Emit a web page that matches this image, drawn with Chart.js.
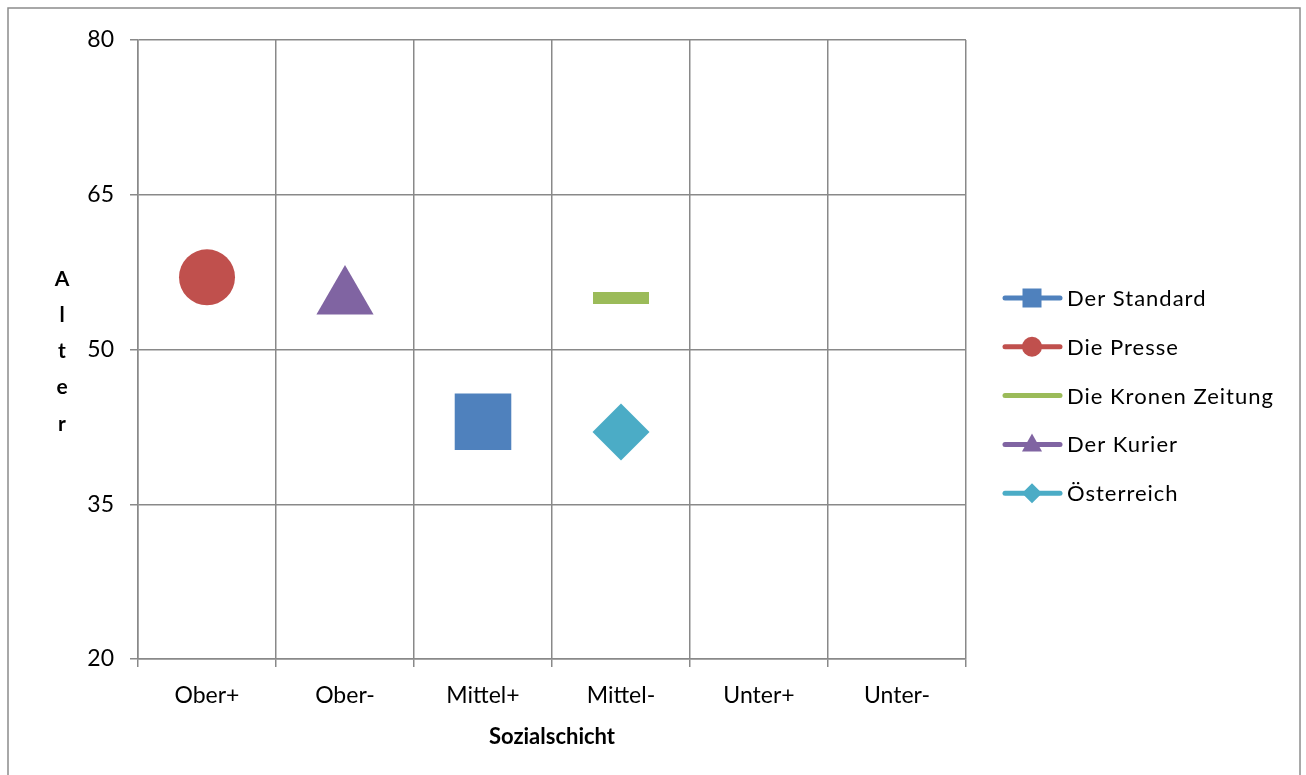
<!DOCTYPE html>
<html>
  <head>
    <meta charset="utf-8">
    <title>Alter nach Sozialschicht</title>
    <script src="https://cdn.jsdelivr.net/npm/chart.js"></script>
    <style>
      html, body {
        margin: 0;
        padding: 0;
        background: #ffffff;
      }
      canvas {
        display: block;
      }
    </style>
  </head>
  <body>
    <canvas id="age-chart" width="1306" height="775"></canvas>

    <script>
      // Data
      const categories = ['Ober+', 'Ober-', 'Mittel+', 'Mittel-', 'Unter+', 'Unter-']
      const seriesNames = ['Der Standard', 'Die Presse', 'Die Kronen Zeitung', 'Der Kurier', 'Österreich']
      const seriesClass = ['Mittel+', 'Ober+', 'Mittel-', 'Ober-', 'Mittel-']
      const seriesAge = [43, 57, 55, 55, 42]
      const yTicks = [20, 35, 50, 65, 80]

      const seriesColors = ['#4f81bd', '#c0504d', '#9bbb59', '#8064a2', '#4bacc6']
      const seriesShapes = ['rect', 'circle', 'line', 'triangle', 'rectRot']
      const seriesRadius = [40, 28, 28, 33, 28.5]

      const gridColor = '#898989'
      const fontFamily = 'Lato, "Open Sans", sans-serif'

      const datasets = seriesNames.map((name, i) => ({
        label: name,
        data: [{ x: seriesClass[i], y: seriesAge[i] }],
        showLine: false,
        pointStyle: seriesShapes[i],
        pointRadius: seriesRadius[i],
        pointHoverRadius: seriesRadius[i],
        backgroundColor: seriesColors[i],
        borderColor: seriesColors[i],
        pointBorderWidth: seriesShapes[i] === 'line' ? 12 : 0,
        pointBorderColor: seriesColors[i]
      }))

      // outer frame + vertical stacked "Alter" + legend with line and marker
      const decorations = {
        id: 'decorations',
        afterDraw(chart) {
          const ctx = chart.ctx
          ctx.save()
          ctx.strokeStyle = '#8c8c8c'
          ctx.lineWidth = 1.5
          ctx.strokeRect(8, 8, 1292, 800)

          ctx.fillStyle = '#000000'
          ctx.font = 'bold 21px ' + fontFamily
          ctx.textAlign = 'center'
          ctx.textBaseline = 'middle'
          'Alter'.split('').forEach((ch, i) => {
            ctx.fillText(ch, 62, 279 + i * 36.2)
          })

          const x0 = 1005
          const x1 = 1060
          const mx = 1032
          seriesNames.forEach((name, i) => {
            const y = 298 + i * 48.8
            ctx.strokeStyle = seriesColors[i]
            ctx.fillStyle = seriesColors[i]
            ctx.lineWidth = 5
            ctx.lineCap = 'round'
            ctx.beginPath()
            ctx.moveTo(x0, y)
            ctx.lineTo(x1, y)
            ctx.stroke()
            const shape = seriesShapes[i]
            ctx.beginPath()
            if (shape === 'rect') {
              ctx.rect(mx - 9.5, y - 9.5, 19, 19)
            } else if (shape === 'circle') {
              ctx.arc(mx, y, 10, 0, Math.PI * 2)
            } else if (shape === 'triangle') {
              ctx.moveTo(mx, y - 11)
              ctx.lineTo(mx + 10, y + 7)
              ctx.lineTo(mx - 10, y + 7)
              ctx.closePath()
            } else if (shape === 'rectRot') {
              ctx.moveTo(mx, y - 10)
              ctx.lineTo(mx + 10, y)
              ctx.lineTo(mx, y + 10)
              ctx.lineTo(mx - 10, y)
              ctx.closePath()
            }
            if (shape !== 'line') ctx.fill()
            ctx.fillStyle = '#000000'
            ctx.font = '22px ' + fontFamily
            ctx.letterSpacing = '1px'
            ctx.textAlign = 'left'
            ctx.textBaseline = 'middle'
            ctx.fillText(name, 1067, y + 1)
            ctx.letterSpacing = '0px'
          })
          ctx.restore()
        }
      }

      new Chart(document.getElementById('age-chart'), {
        type: 'line',
        data: {
          labels: categories,
          datasets: datasets
        },
        options: {
          responsive: false,
          animation: false,
          layout: {
            padding: { top: 36, right: 340, bottom: 0, left: 0 }
          },
          scales: {
            x: {
              type: 'category',
              offset: true,
              border: { color: gridColor, width: 1.5 },
              grid: {
                offset: true,
                color: gridColor,
                lineWidth: 1.5,
                tickLength: 8,
                tickColor: gridColor
              },
              ticks: {
                color: '#000000',
                padding: 15,
                maxRotation: 0,
                font: { family: fontFamily, size: 23 }
              },
              title: {
                display: true,
                text: 'Sozialschicht',
                color: '#000000',
                padding: { top: 0, bottom: 25 },
                font: { family: fontFamily, size: 22, weight: 'bold' }
              },
              afterFit: scale => { scale.height = 116 }
            },
            y: {
              min: yTicks[0],
              max: yTicks[yTicks.length - 1],
              border: { color: gridColor, width: 1.5 },
              grid: {
                color: gridColor,
                lineWidth: 1.5,
                tickLength: 8,
                tickColor: gridColor
              },
              afterBuildTicks: scale => {
                scale.ticks = yTicks.map(v => ({ value: v }))
              },
              ticks: {
                color: '#000000',
                padding: 16,
                font: { family: fontFamily, size: 23 }
              },
              afterFit: scale => { scale.width = 138 }
            }
          },
          plugins: {
            legend: { display: false },
            tooltip: { enabled: false }
          }
        },
        plugins: [decorations]
      })
    </script>
  </body>
</html>
